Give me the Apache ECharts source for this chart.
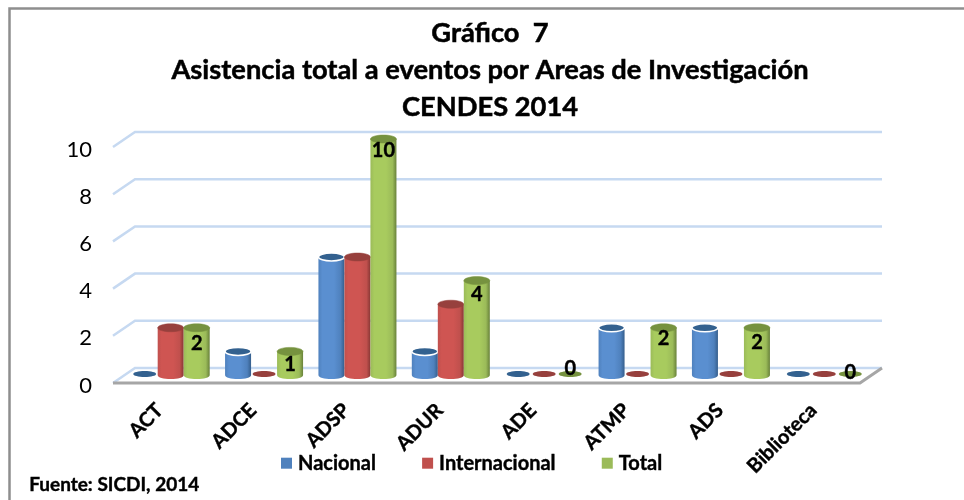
<!DOCTYPE html>
<html><head><meta charset="utf-8">
<style>html,body{margin:0;padding:0;background:#fff}#c{width:964px;height:500px}</style>
<script src="https://cdn.jsdelivr.net/npm/echarts@6/dist/echarts.min.js"></script>
</head><body><div id="c"></div>
<script>
const categories = ['ACT','ADCE','ADSP','ADUR','ADE','ATMP','ADS','Biblioteca'];
const nacional = [0,1,5,1,0,2,2,0];
const internacional = [2,0,5,3,0,0,0,0];
const total = [2,1,10,4,0,2,2,0];
const yTicks = [0,2,4,6,8,10];

const FONT = 'Lato';
const BACK = [22,-15], MID = [11,-8];
const BAR_W = 26, RY = 4;
// small hand adjustments of the Total labels, as in the picture
const LABEL_DY = {0:16, 1:13, 2:12, 3:14, 4:-6, 5:11, 6:15, 7:-2};

const palette = {
  Nacional:      {base:'#4F81BD', light:'#5A8FD0', dark:'#355E8C', top:'#33618F', rim:'#fff'},
  Internacional: {base:'#C0504D', light:'#CF5552', dark:'#873734', top:'#97403D', rim:null},
  Total:         {base:'#9BBB59', light:'#A8CB5E', dark:'#68813A', top:'#76923F', rim:null}
};

function wallItem(params, api){
  const cs = params.coordSys, y = api.coord([0, api.value(0)])[1];
  const xL = cs.x, xR = cs.x + cs.width;
  return {type:'polyline', silent:true,
    shape:{points:[[xL,y],[xL+BACK[0],y+BACK[1]],[xR+BACK[0],y+BACK[1]]]},
    style:{fill:null, stroke:'#C6D9F1', lineWidth:2.5}};
}
function floorItem(params, api){
  const cs = params.coordSys, y = cs.y + cs.height;
  const xL = cs.x, xR = cs.x + cs.width;
  return {type:'group', silent:true, children:[
    {type:'polyline', shape:{points:[[xL,y],[xR,y],[xR+BACK[0],y+BACK[1]]]},
     style:{fill:null, stroke:'#A6A6A6', lineWidth:3}}
  ]};
}
function barItem(name, idx){
  const c = palette[name];
  return function(params, api){
    const i = api.value(0), v = api.value(1);
    const p = api.coord([i, v]), b = api.coord([i, 0]);
    const cx = p[0] + MID[0] + idx*BAR_W, rx = BAR_W/2;
    const yTop = p[1] + MID[1], yBot = b[1] + MID[1];
    const kids = [];
    if (v > 0) {
      const grad = {type:'linear',x:0,y:0,x2:1,y2:0,colorStops:[
        {offset:0,color:c.base},{offset:.15,color:c.light},{offset:.6,color:c.light},
        {offset:.85,color:c.base},{offset:1,color:c.dark}]};
      const l = cx-rx, r = cx+rx;
      const k = 0.5523;
      const path = `M${l} ${yTop}L${l} ${yBot}C${l} ${yBot+RY*k*1.3} ${cx-rx*k} ${yBot+RY} ${cx} ${yBot+RY}`+
        `C${cx+rx*k} ${yBot+RY} ${r} ${yBot+RY*k*1.3} ${r} ${yBot}L${r} ${yTop}Z`;
      kids.push({type:'path', shape:{pathData:path}, style:{fill:grad}});
      kids.push({type:'ellipse', shape:{cx, cy:yTop, rx, ry:RY},
        style:{fill:c.top, stroke:c.rim||c.top, lineWidth:c.rim?1.5:0.5}});
    } else {
      kids.push({type:'ellipse', shape:{cx, cy:yBot-1, rx:rx-1.5, ry:3},
        style:{fill:c.top}});
    }
    if (name === 'Total') {
      kids.push({type:'text', z2:10, style:{text:String(v), x:cx, y:yTop+LABEL_DY[i],
        align:'center', verticalAlign:'middle', fill:'#000',
        stroke:'#000', lineWidth:0.4,
        font:`bold 20px ${FONT}`}});
    }
    return {type:'group', children:kids};
  };
}
function barSeries(name, values, idx){
  return {name, type:'custom', coordinateSystem:'cartesian2d', z:3,
    itemStyle:{color:palette[name].base},
    renderItem:barItem(name, idx),
    encode:{x:0,y:1},
    data:values.map((v,i)=>[i,v])};
}

const chart = echarts.init(document.getElementById('c'), null, {renderer:'canvas'});
chart.setOption({
  backgroundColor:'#fff',
  animation:false,
  title:{text:'Gráfico  7\nAsistencia total a eventos por Areas de Investigación\nCENDES 2014',
    left:485, top:10, textAlign:'center',
    textStyle:{fontFamily:FONT,fontWeight:'bold',fontSize:27.3,lineHeight:37,color:'#000',
      textBorderColor:'#000',textBorderWidth:0.5}},
  legend:{data:['Nacional','Internacional','Total'], left:276, top:448,
    icon:'rect', itemWidth:11, itemHeight:11, itemGap:46,
    textStyle:{fontFamily:FONT,fontWeight:'bold',fontSize:20,color:'#000',padding:[0,0,0,1],
      textBorderColor:'#000',textBorderWidth:0.4}},
  grid:{left:113, top:147, width:747, height:236},
  xAxis:{type:'category', data:categories,
    axisLine:{show:false}, axisTick:{show:false}, splitLine:{show:false},
    axisLabel:{interval:0, rotate:45, margin:24, fontFamily:FONT, fontWeight:'bold', fontSize:20, color:'#000',
      textBorderColor:'#000',textBorderWidth:0.4}},
  yAxis:{type:'value', min:0, max:10, interval:2,
    axisLine:{show:false}, axisTick:{show:false}, splitLine:{show:false},
    axisLabel:{margin:21, formatter:'{a|{value}}',
      rich:{a:{fontFamily:FONT, fontSize:22, color:'#000', padding:[5,0,0,0]}}}},
  series:[
    {type:'custom', silent:true, z:1, renderItem:wallItem, encode:{y:0}, data:yTicks.map(v=>[v])},
    {type:'custom', silent:true, z:2, renderItem:floorItem, data:[[0]]},
    barSeries('Nacional', nacional, -1),
    barSeries('Internacional', internacional, 0),
    barSeries('Total', total, 1)
  ],
  graphic:[
    {type:'polyline', silent:true, z:0, shape:{points:[[9.5,500],[9.5,8.5],[964,8.5]]},
     style:{fill:null, stroke:'#8E8E8E', lineWidth:2.5}},
    {type:'text', silent:true, left:29, top:475,
     style:{text:'Fuente: SICDI, 2014', fill:'#000', stroke:'#000', lineWidth:0.4, font:`bold 19px ${FONT}`}}
  ]
});
</script></body></html>
